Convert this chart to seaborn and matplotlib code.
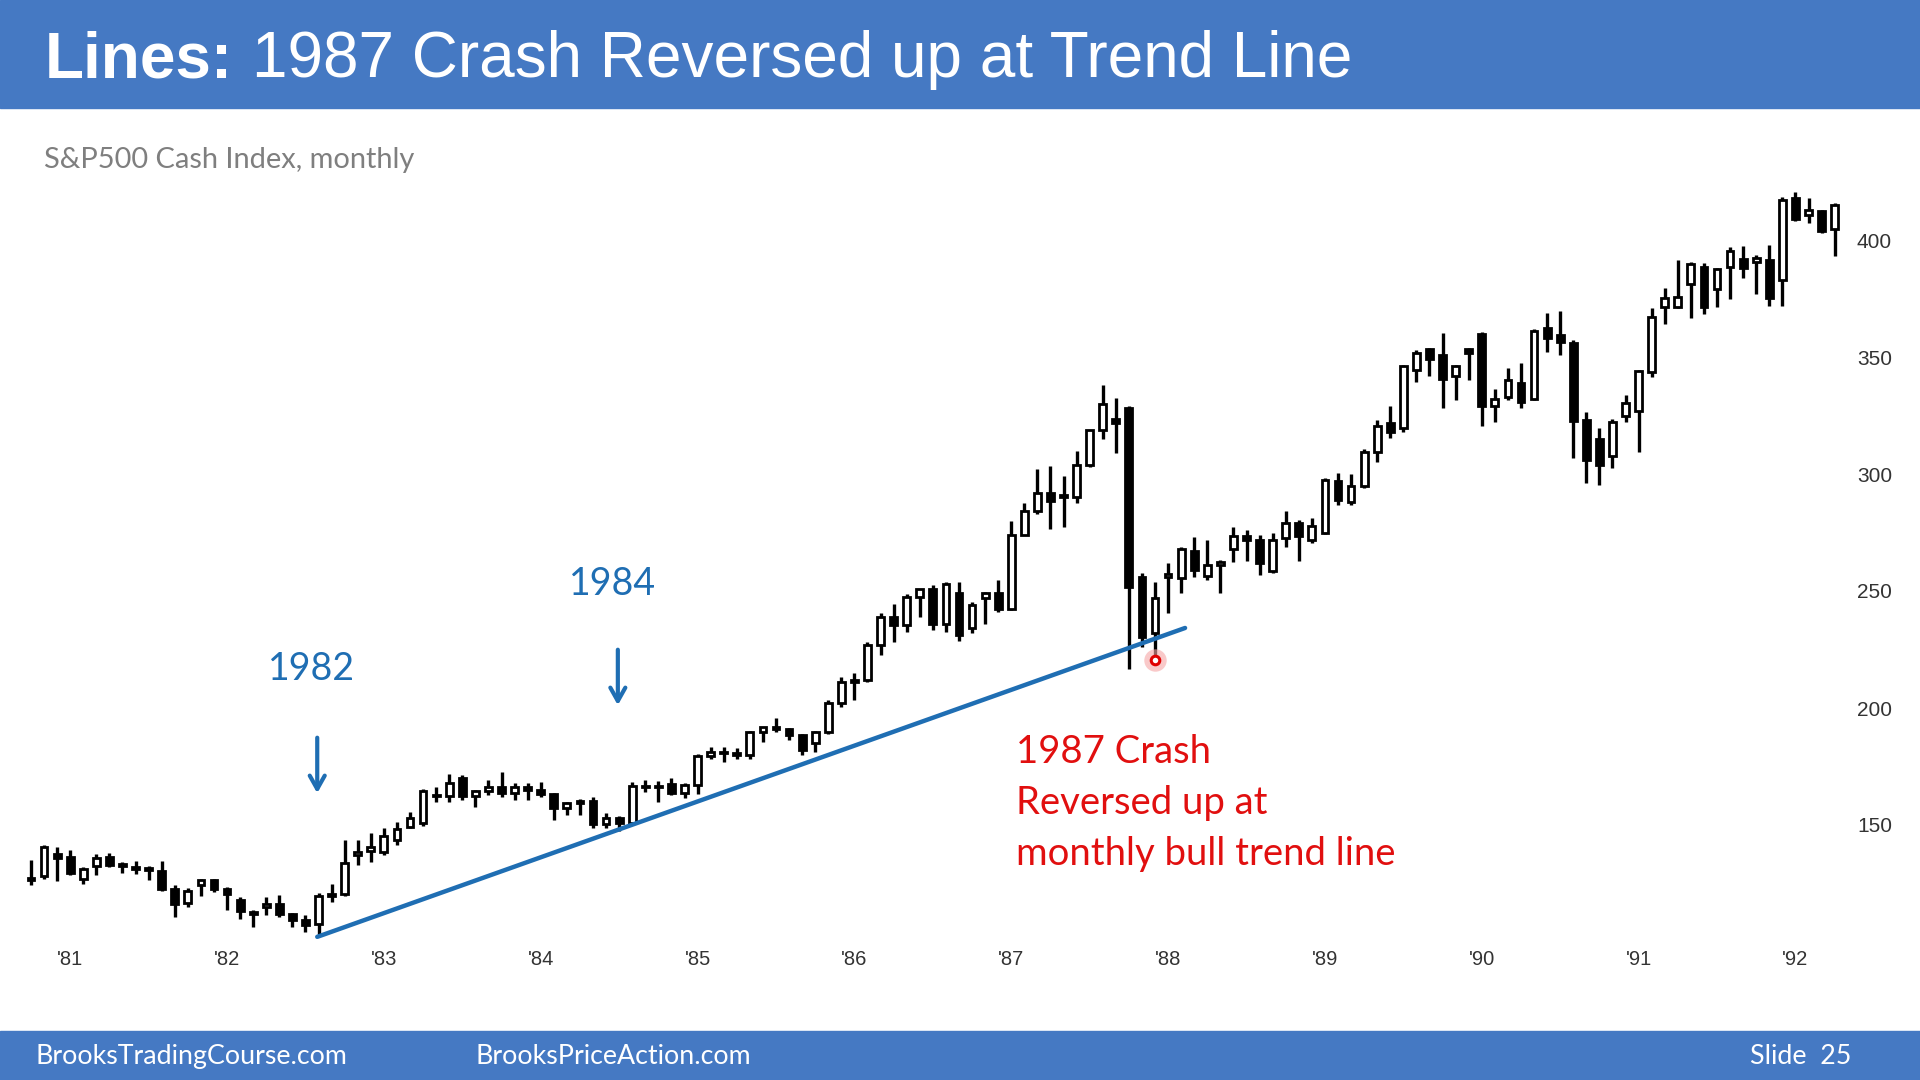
import numpy as np
import pandas as pd
import matplotlib
matplotlib.use("Agg")
import matplotlib.pyplot as plt
from matplotlib.patches import Rectangle
import seaborn as sns

# S&P500 cash index, monthly bars Oct 1980 .. Apr 1992
opens = [
    126.5, 128.0, 137.5,
    136.4, 126.8, 132.5, 136.5, 133.0, 132.2, 131.5, 130.5, 122.8, 116.5, 124.5, 126.3,
    122.5, 118.0, 113.0, 115.0, 116.4, 111.9, 109.6, 107.7, 119.5, 120.4, 137.0, 139.0,
    138.5, 143.5, 149.0, 151.0, 163.0, 162.4, 170.0, 162.6, 164.4, 166.1, 163.6, 166.4,
    164.9, 163.4, 157.1, 159.2, 160.1, 150.6, 153.2, 150.7, 166.7, 166.1, 167.5, 163.6,
    167.2, 179.6, 181.2, 180.7, 179.8, 189.6, 191.9, 190.9, 188.6, 185.0, 189.8, 202.2,
    211.3, 212.0, 226.9, 238.9, 235.5, 247.4, 250.8, 236.1, 249.0, 234.0, 247.0, 249.2,
    242.2, 274.0, 284.2, 291.7, 291.0, 290.1, 304.0, 318.7, 323.5, 328.0, 256.0, 232.0,
    256.0, 255.5, 267.3, 256.5, 261.3, 268.0, 273.5, 272.0, 258.5, 272.5, 279.0, 272.0,
    275.0, 296.8, 288.0, 295.0, 309.6, 322.0, 319.6, 344.5, 353.5, 351.0, 342.0, 353.6,
    360.0, 329.0, 333.0, 338.8, 332.0, 362.5, 359.4, 356.0, 323.0, 315.0, 307.7, 325.0,
    327.0, 343.7, 371.5, 371.5, 381.4, 388.3, 378.9, 388.3, 392.0, 390.7, 391.4, 383.0,
    417.8, 410.6, 412.5, 404.5,
]
highs = [
    135.0, 141.5, 140.7,
    139.5, 132.0, 137.6, 138.0, 134.3, 134.5, 132.5, 134.5, 124.3, 123.0, 127.0, 126.8,
    123.3, 119.3, 113.5, 119.3, 119.9, 112.5, 111.5, 120.8, 124.9, 143.6, 143.6, 146.4,
    148.6, 151.4, 155.7, 165.2, 166.4, 172.0, 171.5, 165.0, 169.2, 172.8, 167.8, 167.8,
    168.5, 163.5, 160.0, 161.0, 162.0, 155.0, 154.0, 168.5, 169.2, 169.0, 170.0, 167.8,
    180.3, 183.4, 183.4, 182.7, 190.0, 192.0, 195.6, 191.3, 189.0, 190.0, 203.4, 213.3,
    214.8, 228.0, 240.4, 244.5, 248.9, 251.0, 252.5, 254.0, 254.0, 245.5, 249.5, 254.7,
    280.0, 287.5, 302.0, 303.5, 299.0, 310.0, 319.0, 338.0, 332.4, 329.0, 257.6, 254.0,
    262.0, 269.0, 273.0, 272.0, 263.3, 277.5, 276.0, 274.0, 274.7, 284.0, 280.5, 281.0,
    298.5, 300.6, 300.0, 310.5, 323.0, 329.0, 346.6, 353.0, 354.0, 360.4, 346.6, 354.0,
    360.5, 336.2, 345.2, 347.3, 362.0, 369.0, 369.8, 357.2, 326.6, 319.5, 323.3, 333.7,
    344.3, 370.8, 379.7, 391.4, 390.5, 390.0, 388.0, 396.8, 397.4, 393.6, 397.8, 418.5,
    420.5, 417.8, 413.0, 416.0,
]
lows = [
    124.5, 127.0, 126.0,
    128.6, 125.0, 128.7, 132.0, 129.3, 129.0, 126.5, 122.0, 110.5, 115.0, 119.5, 121.5,
    113.6, 110.0, 106.5, 111.5, 110.8, 106.5, 104.4, 102.4, 117.2, 119.7, 132.9, 134.3,
    137.2, 141.4, 148.6, 149.5, 160.0, 160.0, 160.7, 157.8, 162.8, 162.1, 160.7, 160.7,
    162.1, 152.1, 154.3, 154.3, 148.6, 148.6, 147.5, 150.0, 164.2, 160.0, 162.8, 161.4,
    163.4, 178.4, 177.0, 178.4, 178.0, 185.6, 189.8, 186.3, 180.0, 181.0, 189.0, 200.5,
    203.4, 211.2, 222.6, 228.0, 232.6, 239.0, 233.3, 232.6, 228.5, 232.0, 236.0, 241.0,
    242.0, 274.0, 283.0, 276.5, 277.5, 287.5, 303.0, 315.0, 309.0, 216.5, 226.2, 222.0,
    240.5, 249.0, 256.0, 254.7, 249.0, 262.6, 263.0, 257.0, 257.6, 269.0, 263.0, 270.7,
    274.5, 286.8, 286.8, 294.0, 305.0, 315.3, 318.0, 339.5, 342.0, 328.0, 331.7, 340.2,
    320.6, 322.4, 331.7, 328.0, 331.7, 352.0, 350.8, 306.7, 296.0, 295.3, 302.4, 322.3,
    309.5, 341.3, 364.0, 370.8, 366.5, 368.3, 371.5, 375.0, 383.6, 377.0, 371.8, 371.8,
    408.0, 407.4, 402.8, 393.1,
]
closes = [
    127.5, 140.5, 135.8,
    129.5, 131.0, 135.8, 132.8, 132.6, 131.2, 130.9, 122.8, 116.2, 121.9, 126.3, 122.5,
    120.4, 113.1, 112.0, 116.4, 111.9, 109.6, 107.1, 119.5, 120.4, 133.7, 138.5, 140.6,
    145.3, 148.1, 153.0, 164.4, 162.4, 168.1, 162.6, 164.4, 166.1, 163.6, 166.4, 164.9,
    163.4, 157.1, 159.2, 160.1, 150.6, 153.2, 150.7, 166.7, 166.1, 166.1, 163.6, 167.2,
    179.6, 181.2, 180.7, 179.8, 189.6, 191.9, 190.9, 188.6, 182.1, 189.8, 202.2, 211.3,
    211.8, 226.9, 238.9, 235.5, 247.4, 250.8, 236.1, 252.9, 231.3, 244.0, 249.2, 242.2,
    274.1, 284.2, 291.7, 288.4, 290.1, 304.0, 318.7, 329.8, 321.8, 251.8, 230.3, 247.1,
    257.1, 267.8, 258.9, 261.3, 262.2, 273.5, 272.0, 262.0, 271.9, 278.9, 273.7, 277.7,
    297.5, 288.9, 294.9, 309.6, 320.5, 318.0, 346.0, 351.5, 349.2, 340.4, 346.0, 351.8,
    329.1, 331.9, 340.0, 330.8, 361.2, 358.0, 356.2, 322.6, 306.0, 304.0, 322.2, 330.2,
    343.9, 367.1, 375.2, 375.5, 389.8, 371.2, 387.8, 395.4, 387.9, 392.5, 375.2, 417.1,
    408.8, 412.7, 403.7, 415.0,
]
months = pd.period_range("1980-10", "1992-04", freq="M")

# bull trend line from the Aug 1982 low (x in bars, y in index points)
trend_x = [21.9, 88.3]
trend_y = [102.2, 234.2]

y_ticks = [150, 200, 250, 300, 350, 400]
note_lines = ["1987 Crash", "Reversed up at", "monthly bull trend line"]

BLUE_BAND = "#4579C3"
NOTE_BLUE = "#1F6EB3"
NOTE_RED = "#E10F0F"

sns.set_theme(style="white")
plt.rcParams["font.family"] = ["Liberation Sans", "DejaVu Sans"]

df = pd.DataFrame({"month": months, "open": opens, "high": highs,
                   "low": lows, "close": closes})
df["x"] = np.arange(len(df))
df["up"] = df["close"] >= df["open"]
df["body_lo"] = df[["open", "close"]].min(axis=1)
df["body_h"] = (df["close"] - df["open"]).abs().clip(lower=0.6)

fig = plt.figure(figsize=(19.2, 10.8), dpi=100)
fig.patch.set_facecolor("white")

# header / footer bands
fig.add_artist(Rectangle((0, 1 - 108 / 1080), 1, 108 / 1080, transform=fig.transFigure,
                         color=BLUE_BAND, zorder=0))
fig.add_artist(Rectangle((0, 0), 1, 49 / 1080, transform=fig.transFigure,
                         color=BLUE_BAND, zorder=0))

fig.text(45 / 1920, 1 - 77 / 1080, "Lines:", color="white", fontsize=46,
         fontweight="bold", va="baseline", ha="left")
fig.text(252 / 1920, 1 - 77 / 1080, "1987 Crash Reversed up at Trend Line", color="white",
         fontsize=46, va="baseline", ha="left")
fig.text(44 / 1920, 1 - 168 / 1080, "S&P500 Cash Index, monthly", color="#7F7F7F",
         fontsize=20.9, family="Lato", va="baseline", ha="left")

fig.text(35 / 1920, 16 / 1080, "BrooksTradingCourse.com", color="white", fontsize=19.3,
         family="Lato", va="baseline", ha="left")
fig.text(475 / 1920, 16 / 1080, "BrooksPriceAction.com", color="white", fontsize=19.3,
         family="Lato", va="baseline", ha="left")
fig.text(1851 / 1920, 16 / 1080, "Slide  25", color="white", fontsize=19.3,
         family="Lato", va="baseline", ha="right")

# price axes
ax = fig.add_axes([0, 138 / 1080, 1845 / 1920, 792 / 1080])
ax.set_facecolor("none")

ax.vlines(df["x"], df["low"], df["high"], color="black", linewidth=2.4, zorder=2)
ax.bar(df["x"], df["body_h"], bottom=df["body_lo"], width=0.52,
       color=np.where(df["up"], "white", "black"), edgecolor="black",
       linewidth=2.0, zorder=3)

sns.lineplot(x=trend_x, y=trend_y, ax=ax, color=NOTE_BLUE, linewidth=3.2, zorder=4)

# low of the reversal bar
dot_i = 86
ax.scatter([dot_i], [df["low"][dot_i] - 1.5], s=260, color="#F6A5A5", alpha=0.6,
           linewidths=0, zorder=5)
ax.scatter([dot_i], [df["low"][dot_i] - 1.5], s=38, facecolor="white",
           edgecolor="#E00000", linewidths=2.2, zorder=6)

arrow = dict(arrowstyle="->,head_length=0.8,head_width=0.45", color=NOTE_BLUE, lw=3)
ax.annotate("", xy=(21.9, 162.4), xytext=(21.9, 188.5), arrowprops=arrow)
ax.annotate("", xy=(44.9, 200.0), xytext=(44.9, 226.1), arrowprops=arrow)
ax.text(21.5, 216.7, "1982", color=NOTE_BLUE, fontsize=27, family="Lato",
        ha="center", va="center")
ax.text(44.5, 252.8, "1984", color=NOTE_BLUE, fontsize=27, family="Lato",
        ha="center", va="center")
for k, line in enumerate(note_lines):
    ax.text(75.4, 181.2 - k * 21.8, line, color=NOTE_RED, fontsize=27.5, family="Lato",
            ha="left", va="center")

ax.set_xlim(-31 / 13.07, (1845 - 31) / 13.07)
ax.set_ylim(100, 100 + 792 / 2.34)

jan = df.index[df["month"].dt.month == 1]
ax.set_xticks(jan)
ax.set_xticklabels(["'" + str(m.year)[2:] for m in df["month"][jan]])
ax.set_yticks(y_ticks)
ax.yaxis.tick_right()
ax.tick_params(axis="x", length=0, pad=6, labelsize=14.5, labelcolor="#333333")
ax.tick_params(axis="y", length=0, pad=8.6, labelsize=15, labelcolor="#333333")
for s in ax.spines.values():
    s.set_visible(False)
ax.grid(False)

fig.savefig("out.png", dpi=100)
